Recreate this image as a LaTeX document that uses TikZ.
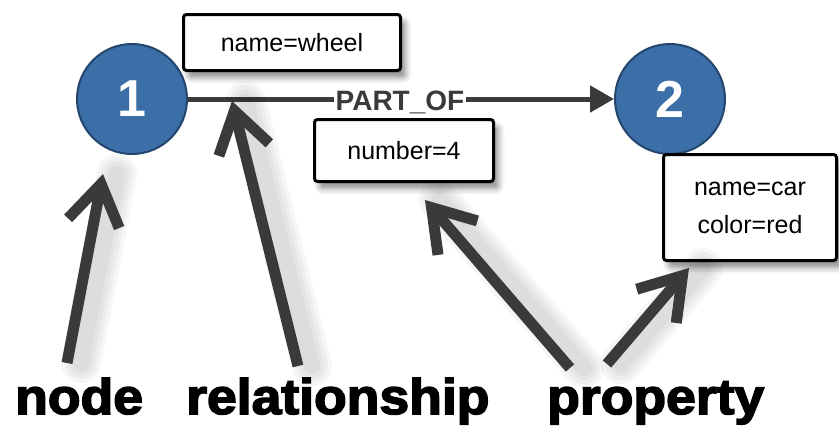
\documentclass[tikz,border=0pt]{standalone}
\usepackage{fontspec}
\setmainfont{Liberation Sans}
\newfontfamily\heavyfont{Liberation Sans Bold}[FakeBold=3]
\usetikzlibrary{arrows.meta,shadows.blur}
\definecolor{nodeblue}{HTML}{3C6FA8}
\definecolor{nodeedge}{HTML}{24466E}
\definecolor{ink}{HTML}{3A3A3A}

\begin{document}
\begin{tikzpicture}[x=1pt,y=-1pt,
  entity/.style={circle, minimum size=110pt, inner sep=0pt, fill=nodeblue,
    draw=nodeedge, line width=2pt, text=white,
    font=\fontsize{52}{52}\selectfont\bfseries},
  propbox/.style={draw=black, line width=3pt, fill=white, rounded corners=3pt,
    inner sep=0pt, align=center, font=\fontsize{25}{38}\selectfont,
    blur shadow={shadow xshift=5pt, shadow yshift=-7pt,
      shadow blur radius=6pt, shadow opacity=45}},
  pointer/.style={draw=ink, line width=11pt,
    -{Straight Barb[length=40pt,width=52pt]}},
  pointershade/.style={draw=black, line cap=round, opacity=0.035},
  caption/.style={font=\heavyfont\fontsize{50}{50}\selectfont, xscale=1.07,
    anchor=base west, inner sep=0pt, text=black},
]
\useasboundingbox (0,0) rectangle (839,426);

% the two graph nodes
\node[entity] (one) at (132,99) {1};
\node[entity] (two) at (670,99) {2};

% the relationship between them
\draw[draw=ink, line width=5pt, -{Triangle[length=24pt,width=26pt]}] (one) -- (two);
\node[fill=white, inner sep=2pt, anchor=base, text=ink,
  font=\bfseries\fontsize{28}{28}\selectfont] (rel) at (400,110) {PART\_OF};

% property boxes
\node[propbox, minimum width=217pt, minimum height=56pt] (wheel) at (292,42.5) {name=wheel};
\node[propbox, minimum width=179pt, minimum height=62pt] (num) at (404,150.5) {number=4};
\node[propbox, minimum width=173pt, minimum height=106pt] (car) at (750,207.5) {name=car\\color=red};

% captions
\node[caption] (capnode) at (15,414) {node};
\node[caption] (caprel) at (186,414) {relationship};
\node[caption] (capprop) at (547,414) {property};

% pointer end points
\coordinate (nodeTail) at (67,363);
\coordinate (nodeTip) at (103,174);
\coordinate (relTail) at (298,366);
\coordinate (relTip) at (232,101);
\coordinate (propTailA) at (570,368);
\coordinate (propTipA) at (425,200);
\coordinate (propTailB) at (607,364);
\coordinate (propTipB) at (689,268);

% soft shadows beside the pointers
\foreach \a/\b in {nodeTail/nodeTip, relTail/relTip, propTailA/propTipA, propTailB/propTipB}{
  \foreach \w in {40,32,24,16}{
    \draw[pointershade, line width=\w pt] ([shift={(14,0)}]\a) -- ([shift={(14,0)}]\b);
  }
}

% pointers from captions to the parts they name
\draw[pointer] (nodeTail) -- (nodeTip);
\draw[pointer] (relTail) -- (relTip);
\draw[pointer] (propTailA) -- (propTipA);
\draw[pointer] (propTailB) -- (propTipB);
\end{tikzpicture}
\end{document}
